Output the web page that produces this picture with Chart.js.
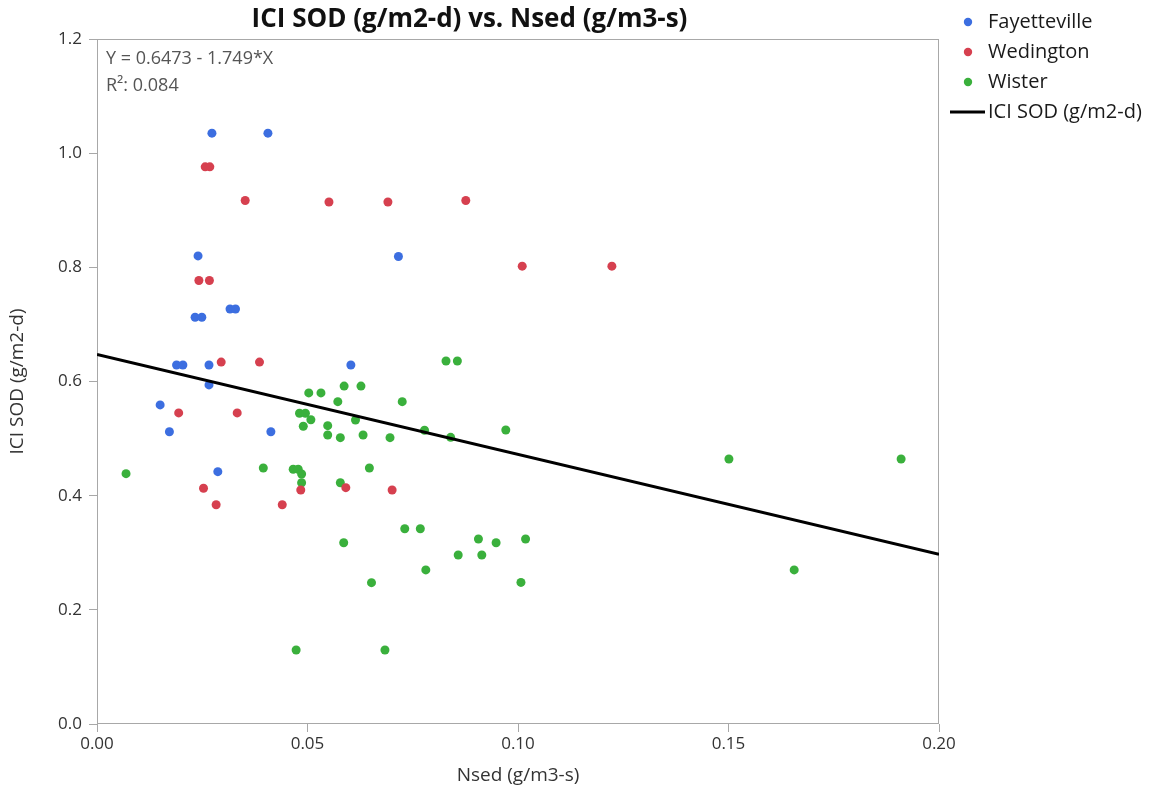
<!DOCTYPE html>
<html><head><meta charset="utf-8">
<script src="https://cdn.jsdelivr.net/npm/chart.js@4.4.1/dist/chart.umd.min.js"></script>
<style>html,body{margin:0;padding:0;background:#fff}#wrap{width:1153px;height:790px}</style>
</head><body><div id="wrap"><canvas id="c" width="1153" height="790"></canvas></div>
<script>
// ---- data ----
const chartTitle = 'ICI SOD (g/m2-d) vs. Nsed (g/m3-s)';
const xTitle = 'Nsed (g/m3-s)';
const yTitle = 'ICI SOD (g/m2-d)';
const fitLabel = 'ICI SOD (g/m2-d)';
const fitText = ['Y = 0.6473 - 1.749*X', 'R\u00B2: 0.084'];
const seriesNames = ['Fayetteville', 'Wedington', 'Wister'];

const fayX = [0.0273,0.0406,0.0240,0.0716,0.0316,0.0329,0.0233,0.0249,0.0189,0.0204,0.0266,0.0603,0.0266,0.0150,0.0172,0.0413,0.0287];
const fayY = [1.035,1.035,0.820,0.819,0.727,0.727,0.7125,0.7125,0.629,0.629,0.629,0.629,0.594,0.559,0.512,0.512,0.442];

const wedX = [0.0257,0.0268,0.0352,0.0551,0.0691,0.0876,0.1010,0.1223,0.0242,0.0267,0.0295,0.0386,0.0194,0.0333,0.0253,0.0283,0.0440,0.0484,0.0591,0.0701];
const wedY = [0.976,0.976,0.917,0.9145,0.9145,0.917,0.802,0.802,0.777,0.777,0.634,0.634,0.545,0.545,0.413,0.384,0.384,0.410,0.414,0.410];

const wisX = [0.0069,0.0829,0.0856,0.0503,0.0532,0.0587,0.0627,0.0572,0.0725,0.0481,0.0495,0.0508,0.0490,0.0548,0.0614,0.0548,0.0578,0.0632,0.0696,0.0778,0.0840,0.0971,0.0395,0.0466,0.0478,0.0486,0.0486,0.0578,0.0647,0.1501,0.1910,0.0731,0.0768,0.0586,0.0906,0.0948,0.1018,0.0858,0.0914,0.0781,0.1656,0.0652,0.1007,0.0473,0.0684];
const wisY = [0.4385,0.636,0.636,0.580,0.580,0.592,0.592,0.5647,0.5647,0.5443,0.5443,0.533,0.5216,0.5226,0.5326,0.5063,0.5016,0.5063,0.5016,0.5145,0.5022,0.515,0.4485,0.4462,0.4462,0.438,0.4227,0.4227,0.4485,0.4643,0.4643,0.342,0.342,0.3176,0.324,0.3176,0.324,0.296,0.296,0.270,0.270,0.2476,0.248,0.1297,0.1297];

const fitX = [0.0, 0.2];
const fitY = [0.6473, 0.2975];

const xTicks = [0, 0.05, 0.10, 0.15, 0.20];
const yTicks = [0, 0.2, 0.4, 0.6, 0.8, 1.0, 1.2];

// ---- styles ----
const colors = ['#3C6EE0', '#D6404F', '#3AB03C'];
const FONT = '"Open Sans", "Noto Sans", sans-serif';
const frameColor = '#A8A8A8';

const pts = (xs, ys) => xs.map((x, i) => ({x, y: ys[i]}));

const decor = {
  id: 'decor',
  beforeDraw(chart) {
    const ctx = chart.ctx;
    ctx.save();
    ctx.fillStyle = '#fff';
    ctx.fillRect(0, 0, chart.width, chart.height);
    ctx.restore();
  },
  beforeDatasetsDraw(chart) {
    const {ctx, chartArea: a} = chart;
    ctx.save();
    ctx.strokeStyle = frameColor;
    ctx.lineWidth = 1;
    ctx.strokeRect(Math.round(a.left) + 0.5, Math.round(a.top) + 0.5, Math.round(a.right - a.left) - 1, Math.round(a.bottom - a.top) - 1);
    // regression text
    ctx.fillStyle = '#555';
    ctx.font = '18px ' + FONT;
    ctx.textAlign = 'left';
    ctx.textBaseline = 'middle';
    ctx.fillText(fitText[0], a.left + 9, a.top + 20);
    ctx.fillText(fitText[1], a.left + 9, a.top + 47);
    ctx.restore();
  },
  afterDraw(chart) {
    const {ctx, chartArea: a} = chart;
    ctx.save();
    // title
    ctx.fillStyle = '#111';
    ctx.font = 'bold 26px ' + FONT;
    ctx.textAlign = 'center';
    ctx.textBaseline = 'middle';
    ctx.fillText(chartTitle, a.right / 2, 20);
    // legend
    const lx = a.right + 29, ty = 22, step = 30;
    ctx.font = '20px ' + FONT;
    ctx.textAlign = 'left';
    chart.data.datasets.forEach((ds, i) => {
      const y = ty + i * step;
      if (ds.type === 'line') {
        ctx.strokeStyle = ds.borderColor;
        ctx.lineWidth = 3;
        ctx.beginPath();
        ctx.moveTo(lx - 18, y);
        ctx.lineTo(lx + 17, y);
        ctx.stroke();
      } else {
        ctx.fillStyle = ds.backgroundColor;
        ctx.beginPath();
        ctx.arc(lx, y, 4.2, 0, Math.PI * 2);
        ctx.fill();
      }
      ctx.fillStyle = '#1a1a1a';
      ctx.fillText(ds.label, lx + 20, y);
    });
    ctx.restore();
  }
};

new Chart(document.getElementById('c'), {
  type: 'scatter',
  data: {
    datasets: [
      {label: seriesNames[0], data: pts(fayX, fayY), backgroundColor: colors[0], borderWidth: 0, pointRadius: 4.5},
      {label: seriesNames[1], data: pts(wedX, wedY), backgroundColor: colors[1], borderWidth: 0, pointRadius: 4.5},
      {label: seriesNames[2], data: pts(wisX, wisY), backgroundColor: colors[2], borderWidth: 0, pointRadius: 4.5},
      {type: 'line', label: fitLabel, data: pts(fitX, fitY), borderColor: '#000', backgroundColor: '#000', borderWidth: 3, pointRadius: 0, fill: false, order: -1}
    ]
  },
  options: {
    responsive: false,
    animation: false,
    layout: {padding: {top: 39, right: 214, left: 0, bottom: 0}},
    plugins: {legend: {display: false}, title: {display: false}, tooltip: {enabled: false}},
    scales: {
      x: {
        type: 'linear', min: 0, max: 0.2,
        afterBuildTicks: s => { s.ticks = xTicks.map(v => ({value: v})); },
        afterFit: s => { s.height = 66; },
        ticks: {callback: v => v.toFixed(2), font: {size: 17, family: FONT}, color: '#333', padding: 2, maxRotation: 0},
        grid: {drawOnChartArea: false, drawTicks: true, tickLength: 8, color: frameColor},
        border: {display: false},
        title: {display: true, text: xTitle, font: {size: 19, family: FONT}, color: '#333', padding: {top: 0, bottom: 3}}
      },
      y: {
        type: 'linear', min: 0, max: 1.2,
        afterBuildTicks: s => { s.ticks = yTicks.map(v => ({value: v})); },
        afterFit: s => { s.width = 97; },
        ticks: {callback: v => v.toFixed(1), font: {size: 17, family: FONT}, color: '#333', padding: 7},
        grid: {drawOnChartArea: false, drawTicks: true, tickLength: 8, color: frameColor},
        border: {display: false},
        title: {display: true, text: yTitle, font: {size: 19, family: FONT}, color: '#333', padding: {top: 6, bottom: 0}}
      }
    }
  },
  plugins: [decor]
});
</script></body></html>
